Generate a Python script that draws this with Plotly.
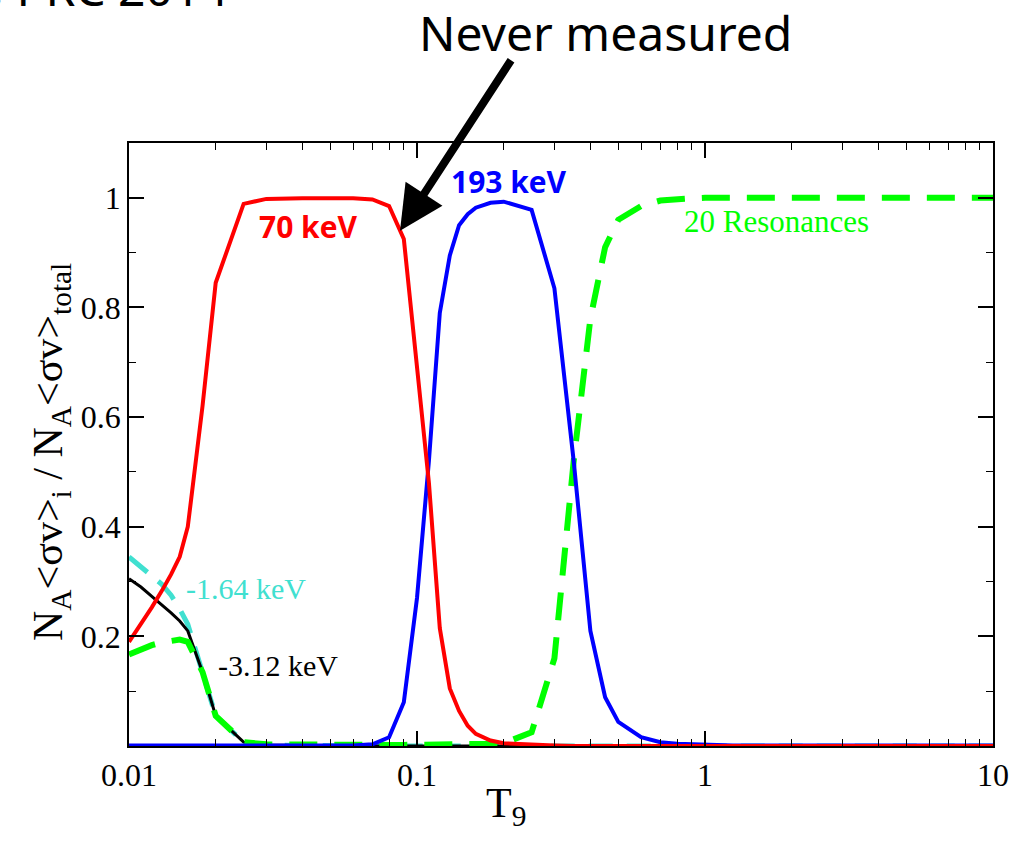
import numpy as np
import plotly.graph_objects as go

# Temperature grid (T9)
T9 = [0.01, 0.011, 0.012, 0.013, 0.014, 0.015, 0.016, 0.018, 0.02, 0.025,
      0.03, 0.04, 0.05, 0.06, 0.07, 0.08, 0.09, 0.1, 0.11, 0.12,
      0.13, 0.14, 0.15, 0.16, 0.18, 0.2, 0.25, 0.3, 0.35, 0.4,
      0.45, 0.5, 0.6, 0.7, 0.8, 0.9, 1.0, 1.25, 1.5, 1.75,
      2.0, 2.5, 3.0, 3.5, 4.0, 5.0, 6.0, 7.0, 8.0, 9.0, 10.0]

# Fractional contributions to the total rate
res_70keV = [0.19, 0.222, 0.253, 0.283, 0.313, 0.345, 0.40, 0.62, 0.845, 0.989,
             0.998, 0.999, 0.999, 0.999, 0.997, 0.985, 0.925, 0.69, 0.48, 0.215,
             0.105, 0.064, 0.037, 0.022, 0.010, 0.005, 0.002, 0.001, 0.0, 0.0,
             0.0, 0.0, 0.0, 0.0, 0.0, 0.0, 0.0, 0.0, 0.0, 0.0,
             0.0, 0.0, 0.0, 0.0, 0.0, 0.0, 0.0, 0.0, 0.0, 0.0, 0.0]

res_193keV = [0.001, 0.001, 0.001, 0.001, 0.001, 0.001, 0.001, 0.001, 0.001, 0.001,
              0.001, 0.001, 0.001, 0.001, 0.003, 0.016, 0.08, 0.27, 0.52, 0.79,
              0.895, 0.95, 0.97, 0.982, 0.991, 0.993, 0.978, 0.835, 0.52, 0.21,
              0.089, 0.044, 0.016, 0.007, 0.004, 0.003, 0.002, 0.001, 0.001, 0.001,
              0.001, 0.001, 0.001, 0.001, 0.001, 0.001, 0.001, 0.001, 0.001, 0.001, 0.001]

res_m164keV = [0.345, 0.327, 0.31, 0.295, 0.275, 0.25, 0.222, 0.135, 0.055, 0.007,
               0.002, 0.001, 0.0, 0.0, 0.0, 0.0, 0.0, 0.0, 0.0, 0.0,
               0.0, 0.0, 0.0, 0.0, 0.0, 0.0, 0.0, 0.0, 0.0, 0.0,
               0.0, 0.0, 0.0, 0.0, 0.0, 0.0, 0.0, 0.0, 0.0, 0.0,
               0.0, 0.0, 0.0, 0.0, 0.0, 0.0, 0.0, 0.0, 0.0, 0.0, 0.0]

res_m312keV = [0.305, 0.29, 0.273, 0.258, 0.243, 0.228, 0.21, 0.135, 0.055, 0.007,
               0.002, 0.001, 0.0, 0.0, 0.0, 0.0, 0.0, 0.0, 0.0, 0.0,
               0.0, 0.0, 0.0, 0.0, 0.0, 0.0, 0.0, 0.0, 0.0, 0.0,
               0.0, 0.0, 0.0, 0.0, 0.0, 0.0, 0.0, 0.0, 0.0, 0.0,
               0.0, 0.0, 0.0, 0.0, 0.0, 0.0, 0.0, 0.0, 0.0, 0.0, 0.0]

res_20 = [0.167, 0.177, 0.184, 0.189, 0.192, 0.194, 0.19, 0.135, 0.055, 0.007,
          0.003, 0.002, 0.002, 0.002, 0.002, 0.002, 0.002, 0.002, 0.002, 0.002,
          0.002, 0.002, 0.002, 0.003, 0.004, 0.005, 0.025, 0.16, 0.52, 0.78,
          0.91, 0.96, 0.985, 0.995, 0.998, 0.999, 1.0, 1.0, 1.0, 1.0,
          1.0, 1.0, 1.0, 1.0, 1.0, 1.0, 1.0, 1.0, 1.0, 1.0, 1.0]

x_tickvals = [0.01, 0.1, 1, 10]
x_ticktext = ["0.01", "0.1", "1", "10"]
y_tickvals = [0.2, 0.4, 0.6, 0.8, 1.0]
y_ticktext = ["0.2", "0.4", "0.6", "0.8", "1"]

SERIF = "Liberation Serif, Times New Roman, serif"
SANS_BOLD = "Open Sans, Noto Sans, sans-serif"
HAND = "Comic Sans MS, Noto Sans, sans-serif"

fig = go.Figure()
fig.add_trace(go.Scatter(x=T9, y=res_m164keV, mode="lines",
                         line=dict(color="#40e0d0", width=5, dash="24px,14px")))
fig.add_trace(go.Scatter(x=T9, y=res_m312keV, mode="lines",
                         line=dict(color="black", width=3)))
fig.add_trace(go.Scatter(x=T9, y=res_20, mode="lines",
                         line=dict(color="#00ff00", width=6, dash="28px,17px")))
fig.add_trace(go.Scatter(x=T9, y=res_193keV, mode="lines",
                         line=dict(color="#0000ff", width=4)))
fig.add_trace(go.Scatter(x=T9, y=res_70keV, mode="lines",
                         line=dict(color="#ff0000", width=4)))

minor_x = [m * 10.0 ** d for d in (-2, -1, 0) for m in range(2, 10)]

fig.update_xaxes(type="log", range=[-2, 1],
                 tickvals=x_tickvals, ticktext=x_ticktext,
                 ticks="inside", ticklen=15, tickwidth=1.5, tickcolor="black",
                 showline=True, linecolor="black", linewidth=1.5, mirror="ticks",
                 showgrid=False, zeroline=False,
                 tickfont=dict(family=SERIF, size=32, color="black"),
                 minor=dict(tickvals=minor_x, ticks="inside", ticklen=7,
                            tickwidth=1.2, tickcolor="black", showgrid=False))
fig.update_yaxes(range=[0, 1.1],
                 tickvals=y_tickvals, ticktext=y_ticktext,
                 ticks="inside", ticklen=15, tickwidth=1.5, tickcolor="black",
                 showline=True, linecolor="black", linewidth=1.5, mirror="ticks",
                 showgrid=False, zeroline=False,
                 tickfont=dict(family=SERIF, size=32, color="black"),
                 minor=dict(tickvals=[0.1, 0.3, 0.5, 0.7, 0.9], ticks="inside",
                            ticklen=7, tickwidth=1.2, tickcolor="black",
                            showgrid=False))

annotations = [
    # curve labels (x given as log10 on the log axis)
    dict(x=np.log10(0.0419), y=0.947, text="<b>70 keV</b>", showarrow=False,
         font=dict(family=SANS_BOLD, size=30, color="#ff0000")),
    dict(x=np.log10(0.2084), y=1.029, text="<b>193 keV</b>", showarrow=False,
         font=dict(family=SANS_BOLD, size=30, color="#0000ff")),
    dict(x=np.log10(1.778), y=0.956, text="20 Resonances", showarrow=False,
         font=dict(family=SERIF, size=31, color="#00ff00")),
    dict(x=np.log10(0.0255), y=0.287, text="-1.64 keV", showarrow=False,
         font=dict(family=SERIF, size=30, color="#40e0d0")),
    dict(x=np.log10(0.0329), y=0.147, text="-3.12 keV", showarrow=False,
         font=dict(family=SERIF, size=30, color="black")),
    # arrow pointing at the 70 keV curve
    dict(x=np.log10(0.0873), y=0.94, text="", showarrow=True,
         arrowhead=2, arrowsize=1.1, arrowwidth=8, arrowcolor="black",
         ax=112, ay=-172, axref="pixel", ayref="pixel"),
    dict(xref="paper", yref="paper", x=0.551, y=(746 - 33) / 603,
         text="Never measured",
         showarrow=False, xanchor="center", yanchor="middle",
         font=dict(family=HAND, size=48, color="black")),
    dict(xref="paper", yref="paper", x=0.117, y=1.2, text="et al., PRC 2014",
         showarrow=False, xanchor="right", yanchor="bottom",
         font=dict(family=HAND, size=48, color="black")),
    # axis titles
    dict(xref="paper", yref="paper", x=(506 - 129) / 864, y=(746 - 806) / 603,
         text="T<sub>9</sub>", showarrow=False, xanchor="center", yanchor="middle",
         font=dict(family=SERIF, size=42, color="black")),
    dict(xref="paper", yref="paper", x=(51 - 129) / 864, y=(746 - 452) / 603,
         text="N<sub>A</sub>&lt;σv&gt;<sub>i</sub> / N<sub>A</sub>&lt;σv&gt;<sub>total</sub>",
         textangle=-90, showarrow=False, xanchor="center", yanchor="middle",
         font=dict(family=SERIF, size=42, color="black")),
]

fig.update_layout(width=1023, height=842,
                  margin=dict(l=129, r=30, t=143, b=96),
                  paper_bgcolor="white", plot_bgcolor="white",
                  showlegend=False, annotations=annotations)

fig.write_html("out.html")
